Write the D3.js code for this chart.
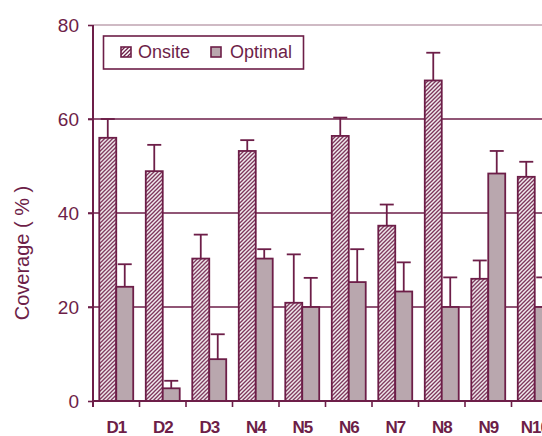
<!DOCTYPE html>
<html>
<head>
<meta charset="utf-8">
<script src="https://cdn.jsdelivr.net/npm/d3@7"></script>
<style>
  html, body { margin: 0; padding: 0; background: #fff; }
  svg { display: block; }
</style>
</head>
<body>
<svg id="chart" width="542" height="436"></svg>
<script>
// Survey sites and coverage figures (%)
const sites = ["D1", "D2", "D3", "N4", "N5", "N6", "N7", "N8", "N9", "N10"];
const onsite = [56.0, 48.9, 30.3, 53.2, 20.9, 56.4, 37.3, 68.2, 26.0, 47.7];
const onsiteErr = [4.0, 5.6, 5.1, 2.3, 10.3, 3.9, 4.5, 5.9, 3.9, 3.2];
const optimal = [24.3, 2.7, 8.9, 30.3, 20.0, 25.3, 23.3, 20.0, 48.4, 20.0];
const optimalErr = [4.8, 1.6, 5.3, 2.0, 6.2, 7.0, 6.2, 6.3, 4.8, 6.3];
const yTicks = [0, 20, 40, 60, 80];
const seriesNames = ["Onsite", "Optimal"];

const ink = "#6d1e48";
const optimalFill = "#b9a7ae";
const topRule = "#bfa3b1";

const svg = d3.select("#chart");
const defs = svg.append("defs");

// diagonal hatch for the Onsite bars
const hatch = defs.append("pattern")
  .attr("id", "hatch")
  .attr("patternUnits", "userSpaceOnUse")
  .attr("width", 4).attr("height", 4);
hatch.append("rect").attr("width", 4).attr("height", 4).attr("fill", "#fff");
hatch.append("path")
  .attr("d", "M-1,1 l2,-2 M0,4 l4,-4 M3,5 l2,-2")
  .attr("stroke", ink).attr("stroke-width", 1.3);

const x0 = d3.scaleBand().domain(sites).range([93, 558])
  .paddingInner(0.27).paddingOuter(0.135);
const x1 = d3.scaleBand().domain(seriesNames).range([0, x0.bandwidth()]);
const y = d3.scaleLinear().domain([0, 80]).range([401, 25]);

// plot top rule (80) and horizontal gridlines
svg.append("line")
  .attr("x1", 93).attr("x2", 542)
  .attr("y1", y(80)).attr("y2", y(80))
  .attr("stroke", topRule).attr("stroke-width", 1.5);
svg.append("g").selectAll("line")
  .data(yTicks.filter(t => t > 0 && t < 80))
  .join("line")
  .attr("x1", 88).attr("x2", 542)
  .attr("y1", d => y(d)).attr("y2", d => y(d))
  .attr("stroke", ink).attr("stroke-width", 1.6);

// y axis
const yAxis = svg.append("g")
  .attr("transform", "translate(93,0)")
  .call(d3.axisLeft(y).tickValues(yTicks).tickSize(5).tickPadding(9));
yAxis.select(".domain").remove();
yAxis.selectAll(".tick line").attr("stroke", ink).attr("stroke-width", 1.6);
yAxis.selectAll(".tick text")
  .attr("fill", ink)
  .style("font-family", "'Liberation Sans', Arial, sans-serif")
  .style("font-size", "19px");
svg.append("line")
  .attr("x1", 93).attr("x2", 93)
  .attr("y1", y(80)).attr("y2", 407)
  .attr("stroke", ink).attr("stroke-width", 2);

// bars
const groups = svg.append("g").selectAll("g")
  .data(sites)
  .join("g")
  .attr("transform", d => `translate(${x0(d)},0)`);

const rows = sites.map((s, i) => [
  { key: "Onsite", v: onsite[i], e: onsiteErr[i] },
  { key: "Optimal", v: optimal[i], e: optimalErr[i] }
]);

groups.each(function(site, i) {
  const g = d3.select(this);
  rows[i].forEach(r => {
    const bx = x1(r.key);
    const bw = x1.bandwidth();
    g.append("rect")
      .attr("x", bx).attr("width", bw)
      .attr("y", y(r.v)).attr("height", y(0) - y(r.v))
      .attr("fill", r.key === "Onsite" ? "url(#hatch)" : optimalFill)
      .attr("stroke", ink).attr("stroke-width", 1.8);
    const cx = bx + bw / 2;
    g.append("line")
      .attr("x1", cx).attr("x2", cx)
      .attr("y1", y(r.v)).attr("y2", y(r.v + r.e))
      .attr("stroke", ink).attr("stroke-width", 1.8);
    g.append("line")
      .attr("x1", cx - 7).attr("x2", cx + 7)
      .attr("y1", y(r.v + r.e)).attr("y2", y(r.v + r.e))
      .attr("stroke", ink).attr("stroke-width", 1.8);
  });
});

// x axis
const xAxis = svg.append("g")
  .attr("transform", `translate(0,${y(0)})`)
  .call(d3.axisBottom(x0).tickSize(0).tickPadding(20));
xAxis.select(".domain").attr("stroke", ink).attr("stroke-width", 1.8)
  .attr("d", "M93,0H542");
xAxis.selectAll(".tick text")
  .attr("fill", ink)
  .style("font-family", "'Liberation Sans', Arial, sans-serif")
  .style("font-size", "17px")
  .style("font-weight", "bold")
  .style("letter-spacing", "-1px");
// category separators below the axis
svg.append("g").selectAll("line")
  .data(sites)
  .join("line")
  .attr("x1", d => x0(d) + x0.bandwidth() / 2 + x0.step() / 2)
  .attr("x2", d => x0(d) + x0.bandwidth() / 2 + x0.step() / 2)
  .attr("y1", y(0)).attr("y2", y(0) + 6)
  .attr("stroke", ink).attr("stroke-width", 1.6);

// y axis title
svg.append("text")
  .attr("transform", "translate(29,253) rotate(-90)")
  .attr("text-anchor", "middle")
  .attr("fill", ink)
  .style("font-family", "'Liberation Sans', Arial, sans-serif")
  .style("font-size", "20px")
  .text("Coverage ( % )");

// legend
const legend = svg.append("g");
legend.append("rect")
  .attr("x", 103.5).attr("y", 36).attr("width", 200).attr("height", 33)
  .attr("fill", "#fff").attr("stroke", ink).attr("stroke-width", 1.6);
const legendPos = [{ sx: 121, tx: 138 }, { sx: 211, tx: 230 }];
seriesNames.forEach((name, i) => {
  legend.append("rect")
    .attr("x", legendPos[i].sx).attr("y", 47)
    .attr("width", 10).attr("height", 10)
    .attr("fill", name === "Onsite" ? "url(#hatch)" : optimalFill)
    .attr("stroke", ink).attr("stroke-width", 1.6);
  legend.append("text")
    .attr("x", legendPos[i].tx).attr("y", 58)
    .attr("fill", ink)
    .style("font-family", "'Liberation Sans', Arial, sans-serif")
    .style("font-size", "18px")
    .text(name);
});
</script>
</body>
</html>
